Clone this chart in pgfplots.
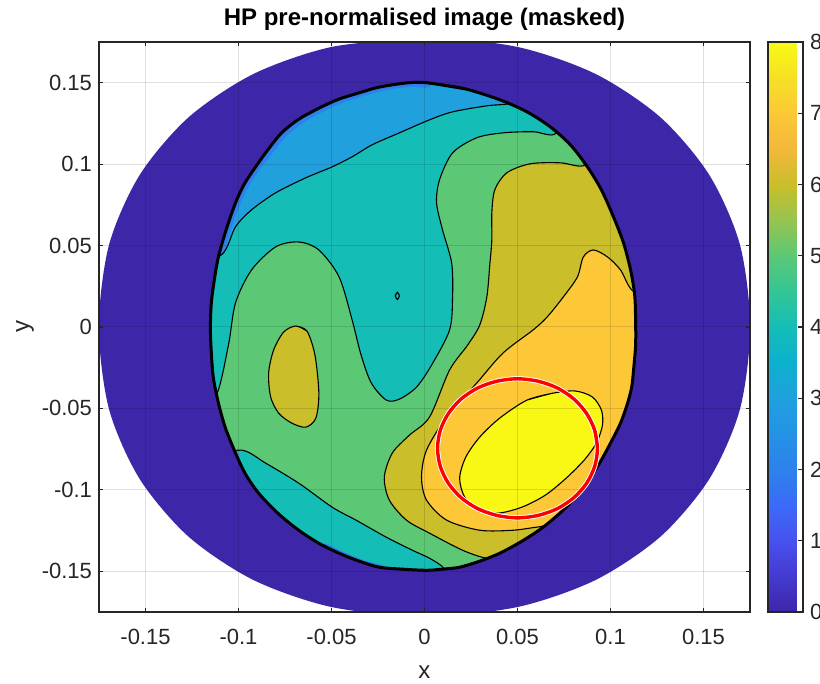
\documentclass[border=0pt]{standalone}
\usepackage{fontspec}
\setmainfont{Liberation Sans}
\usepackage{pgfplots}
\pgfplotsset{compat=1.18}

\definecolor{pc0}{RGB}{62,38,168}
\definecolor{pc2}{RGB}{44,130,236}
\definecolor{pc3}{RGB}{33,160,222}
\definecolor{pc4}{RGB}{20,190,182}
\definecolor{pc5}{RGB}{92,200,118}
\definecolor{pc6}{RGB}{202,190,42}
\definecolor{pc7}{RGB}{252,200,55}
\definecolor{pc8}{RGB}{248,248,20}
\definecolor{axgray}{RGB}{38,38,38}

\begin{document}
\begin{tikzpicture}
\begin{axis}[
  at={(49.5pt,36pt)}, anchor=south west,
  scale only axis, width=325.5pt, height=285pt,
  xmin=-0.175, xmax=0.175, ymin=-0.175, ymax=0.175,
  xtick={-0.15,-0.1,-0.05,0,0.05,0.1,0.15},
  ytick={-0.15,-0.1,-0.05,0,0.05,0.1,0.15},
  xticklabels={-0.15,-0.1,-0.05,0,0.05,0.1,0.15},
  yticklabels={-0.15,-0.1,-0.05,0,0.05,0.1,0.15},
  tick label style={font=\fontsize{11}{13}\selectfont, text=axgray},
  xticklabel style={anchor=center, yshift=-12.5pt},
  tick pos=both, tick align=inside, major tick length=2.2pt,
  grid=major, grid style={draw=black, draw opacity=0.12, line width=0.5pt},
  axis on top,
  axis line style={draw=axgray, line width=0.6pt},
  every tick/.style={draw=axgray, line width=0.6pt},
  title={HP pre-normalised image (masked)},
  title style={font=\bfseries\fontsize{12}{14}\selectfont, at={(0.5,1)}, anchor=base, yshift=2pt},
  xlabel={x}, ylabel={y},
  label style={font=\fontsize{12}{14}\selectfont, text=axgray},
  xlabel style={at={(axis description cs:0.5,-0.1053)}, anchor=center},
  ylabel style={at={(axis description cs:-0.1137,0.5)}, anchor=center},
  colormap={parula}{rgb255=(62,38,168) rgb255=(68,58,208) rgb255=(71,82,238) rgb255=(60,106,248)
    rgb255=(44,130,236) rgb255=(36,146,230) rgb255=(33,160,222) rgb255=(12,176,206)
    rgb255=(20,190,182) rgb255=(52,197,150) rgb255=(92,200,118) rgb255=(150,196,80)
    rgb255=(202,190,42) rgb255=(242,184,58) rgb255=(252,200,55) rgb255=(245,224,38)
    rgb255=(249,250,20)},
  colorbar, point meta min=0, point meta max=8,
  colorbar style={
    at={(parent axis.north east)}, anchor=north west, xshift=0.5pt,
    width=17.5pt,
    ytick={0,1,2,3,4,5,6,7,8}, yticklabels={0,1,2,3,4,5,6,7,8},
    ytick pos=right, yticklabel pos=right, tick align=inside,
    major tick length=2.5pt,
    axis line style={draw=axgray, line width=0.6pt},
    every tick/.style={draw=axgray, line width=0.6pt},
    tick label style={font=\fontsize{11}{13}\selectfont, text=axgray},
  },
]

% level 3 background (inside the ring)
\addplot[fill=pc3, draw=none, smooth] coordinates {
 (0.1432,0) (0.1240,0.0815) (0.0716,0.1411) (0,0.1629) (-0.0716,0.1411)
 (-0.1240,0.0815) (-0.1432,0) (-0.1240,-0.0815) (-0.0716,-0.1411) (0,-0.1629)
 (0.0716,-0.1411) (0.1240,-0.0815) (0.1432,0)};

% level 2 sliver, top left
\addplot[fill=pc2, draw=none, smooth] coordinates {
 (-0.1081,0.0424) (-0.1043,0.0590) (-0.0995,0.0744) (-0.0946,0.0860) (-0.0886,0.0965)
 (-0.0816,0.1069) (-0.0746,0.1168) (-0.0659,0.1248) (-0.0568,0.1309) (-0.0454,0.1371)
 (-0.0341,0.1414) (-0.0249,0.1444) (-0.0162,0.1463) (-0.0070,0.1475) (0.0027,0.1475)
 (0.0060,0.1580) (0,0.1629) (-0.0716,0.1411) (-0.1240,0.0815) (-0.1280,0.0400)
 (-0.1081,0.0424)};

% level 4
\addplot[fill=pc4, draw=black, line width=0.55pt, smooth] coordinates {
 (-0.1280,0.0400) (-0.1092,0.0443) (-0.1016,0.0615) (-0.0930,0.0719) (-0.0800,0.0824)
 (-0.0638,0.0916) (-0.0497,0.0983) (-0.0389,0.1045) (-0.0281,0.1119) (-0.0135,0.1192)
 (0.0027,0.1272) (0.0151,0.1321) (0.0335,0.1358) (0.0476,0.1377) (0.0560,0.1460)
 (0.0716,0.1411) (0.1240,0.0815) (0.1432,0) (0.1240,-0.0815) (0.0716,-0.1411)
 (0,-0.1629) (-0.0716,-0.1411) (-0.1240,-0.0815) (-0.1432,0) (-0.1280,0.0400)};

% level 5
\addplot[fill=pc5, draw=black, line width=0.55pt, smooth] coordinates {
 (-0.1216,-0.0449) (-0.1119,-0.0418) (-0.1054,-0.0111) (-0.1016,0.0148) (-0.0930,0.0350)
 (-0.0800,0.0492) (-0.0676,0.0522) (-0.0568,0.0473) (-0.0459,0.0307) (-0.0389,0.0043)
 (-0.0341,-0.0172) (-0.0286,-0.0344) (-0.0205,-0.0449) (-0.0135,-0.0443) (-0.0043,-0.0369)
 (0.0038,-0.0234) (0.0135,-0.0018) (0.0151,0.0184) (0.0146,0.0393) (0.0097,0.0596)
 (0.0065,0.0762) (0.0081,0.0904) (0.0151,0.1069) (0.0281,0.1162) (0.0422,0.1192)
 (0.0584,0.1199) (0.0703,0.1186) (0.0760,0.1350) (0.1240,0.0815) (0.1432,0)
 (0.1240,-0.0815) (0.0716,-0.1411) (0.0120,-0.1600) (0.0108,-0.1487) (0.0027,-0.1420)
 (-0.0065,-0.1371) (-0.0205,-0.1291) (-0.0368,-0.1186) (-0.0497,-0.1106) (-0.0676,-0.0959)
 (-0.0854,-0.0836) (-0.0984,-0.0756) (-0.1189,-0.0787) (-0.1216,-0.0449)};

% level 3 sliver, bottom
\addplot[fill=pc2, draw=none, smooth] coordinates {
 (-0.0560,-0.1330) (-0.0524,-0.1334) (-0.0432,-0.1383) (-0.0341,-0.1426) (-0.0270,-0.1450)
 (-0.0200,-0.1480) (-0.0250,-0.1580) (-0.0550,-0.1500) (-0.0560,-0.1330)};

% level 6, island
\addplot[fill=pc6, draw=black, line width=0.55pt, smooth] coordinates {
 (-0.0692,0.0006) (-0.0632,-0.0025) (-0.0589,-0.0172) (-0.0568,-0.0406) (-0.0584,-0.0559)
 (-0.0638,-0.0615) (-0.0714,-0.0590) (-0.0784,-0.0529) (-0.0827,-0.0430) (-0.0838,-0.0283)
 (-0.0811,-0.0141) (-0.0757,-0.0031) (-0.0692,0.0006) (-0.0632,-0.0025)};

% level 6, right
\addplot[fill=pc6, draw=black, line width=0.55pt, smooth] coordinates {
 (0.0960,0.1080) (0.0854,0.0990) (0.0730,0.1008) (0.0568,0.1002) (0.0443,0.0947)
 (0.0378,0.0842) (0.0362,0.0701) (0.0362,0.0535) (0.0351,0.0381) (0.0335,0.0184)
 (0.0297,0.0012) (0.0232,-0.0111) (0.0135,-0.0264) (0.0027,-0.0553) (-0.0081,-0.0664)
 (-0.0173,-0.0774) (-0.0216,-0.0922) (-0.0189,-0.1063) (-0.0097,-0.1186) (0.0027,-0.1266)
 (0.0205,-0.1371) (0.0335,-0.1420) (0.0422,-0.1408) (0.0459,-0.1524) (0.0716,-0.1411)
 (0.1240,-0.0815) (0.1432,0) (0.1240,0.0815) (0.0960,0.1080)};

% level 7
\addplot[fill=pc7, draw=black, line width=0.55pt, smooth] coordinates {
 (0.1300,0.0250) (0.1130,0.0215) (0.1054,0.0350) (0.0984,0.0430) (0.0908,0.0473)
 (0.0854,0.0430) (0.0822,0.0307) (0.0746,0.0184) (0.0659,0.0061) (0.0584,-0.0018)
 (0.0422,-0.0160) (0.0281,-0.0344) (0.0119,-0.0553) (0.0011,-0.0756) (-0.0016,-0.0922)
 (0.0011,-0.1063) (0.0119,-0.1186) (0.0297,-0.1248) (0.0476,-0.1248) (0.0605,-0.1229)
 (0.0665,-0.1230) (0.0720,-0.1350) (0.1240,-0.0815) (0.1432,0) (0.1300,0.0250)};

% level 8
\addplot[fill=pc8, draw=black, line width=0.55pt, smooth] coordinates {
 (0.0551,-0.0449) (0.0692,-0.0406) (0.0811,-0.0393) (0.0903,-0.0430) (0.0951,-0.0510)
 (0.0957,-0.0602) (0.0924,-0.0713) (0.0859,-0.0817) (0.0762,-0.0928) (0.0649,-0.1033)
 (0.0524,-0.1106) (0.0395,-0.1143) (0.0286,-0.1119) (0.0216,-0.1045) (0.0189,-0.0928)
 (0.0222,-0.0799) (0.0297,-0.0676) (0.0405,-0.0559) (0.0551,-0.0449) (0.0692,-0.0406)};

% tiny closed contour
\addplot[draw=black, line width=0.55pt, smooth] coordinates {
 (-0.0157,0.0191) (-0.0146,0.0213) (-0.0135,0.0191) (-0.0146,0.0169) (-0.0157,0.0191) (-0.0146,0.0213)};

% masked ring (value 0)
\addplot[fill=pc0, draw=none, smooth, unbounded coords=jump] coordinates {
 (0,0.1776) (-0.0498,0.1720) (-0.0919,0.1554) (-0.1269,0.1287) (-0.1532,0.0932)
 (-0.1696,0.0505) (-0.1751,0) (-0.1696,-0.0505) (-0.1532,-0.0932) (-0.1269,-0.1287)
 (-0.0919,-0.1554) (-0.0498,-0.1720) (0,-0.1776) (0.0498,-0.1720) (0.0919,-0.1554)
 (0.1269,-0.1287) (0.1532,-0.0932) (0.1696,-0.0505) (0.1751,0) (0.1696,0.0505)
 (0.1532,0.0932) (0.1269,0.1287) (0.0919,0.1554) (0.0498,0.1720) (0,0.1776)
 (-0.0498,0.1720)
 (nan,nan)
 (0.0011,0.1500) (0.0216,0.1463) (0.0405,0.1395) (0.0551,0.1321) (0.0676,0.1229)
 (0.0784,0.1119) (0.0876,0.0983) (0.0951,0.0842) (0.1016,0.0676) (0.1070,0.0516)
 (0.1108,0.0350) (0.1130,0.0197) (0.1135,0.0043) (0.1135,-0.0111) (0.1124,-0.0264)
 (0.1114,-0.0369) (0.1092,-0.0467) (0.1054,-0.0590) (0.1000,-0.0713) (0.0935,-0.0848)
 (0.0854,-0.0983) (0.0757,-0.1112) (0.0638,-0.1229) (0.0524,-0.1315) (0.0405,-0.1389)
 (0.0297,-0.1438) (0.0189,-0.1475) (0.0097,-0.1487) (0.0011,-0.1494) (-0.0119,-0.1487)
 (-0.0243,-0.1475) (-0.0351,-0.1438) (-0.0459,-0.1389) (-0.0568,-0.1328) (-0.0676,-0.1248)
 (-0.0789,-0.1143) (-0.0892,-0.1020) (-0.0962,-0.0904) (-0.1016,-0.0774) (-0.1070,-0.0621)
 (-0.1108,-0.0467) (-0.1135,-0.0313) (-0.1146,-0.0160) (-0.1151,-0.0006) (-0.1146,0.0148)
 (-0.1130,0.0289) (-0.1108,0.0430) (-0.1065,0.0602) (-0.1016,0.0762) (-0.0968,0.0879)
 (-0.0908,0.0983) (-0.0838,0.1094) (-0.0768,0.1192) (-0.0681,0.1272) (-0.0584,0.1334)
 (-0.0470,0.1395) (-0.0351,0.1438) (-0.0259,0.1469) (-0.0173,0.1487) (-0.0081,0.1500)
 (0.0011,0.1500) (0.0216,0.1463)};

% mask edge
\addplot[draw=black, line width=1.5pt, smooth] coordinates {
 (0.0011,0.1500) (0.0216,0.1463) (0.0405,0.1395) (0.0551,0.1321) (0.0676,0.1229)
 (0.0784,0.1119) (0.0876,0.0983) (0.0951,0.0842) (0.1016,0.0676) (0.1070,0.0516)
 (0.1108,0.0350) (0.1130,0.0197) (0.1135,0.0043) (0.1135,-0.0111) (0.1124,-0.0264)
 (0.1114,-0.0369) (0.1092,-0.0467) (0.1054,-0.0590) (0.1000,-0.0713) (0.0935,-0.0848)
 (0.0854,-0.0983) (0.0757,-0.1112) (0.0638,-0.1229) (0.0524,-0.1315) (0.0405,-0.1389)
 (0.0297,-0.1438) (0.0189,-0.1475) (0.0097,-0.1487) (0.0011,-0.1494) (-0.0119,-0.1487)
 (-0.0243,-0.1475) (-0.0351,-0.1438) (-0.0459,-0.1389) (-0.0568,-0.1328) (-0.0676,-0.1248)
 (-0.0789,-0.1143) (-0.0892,-0.1020) (-0.0962,-0.0904) (-0.1016,-0.0774) (-0.1070,-0.0621)
 (-0.1108,-0.0467) (-0.1135,-0.0313) (-0.1146,-0.0160) (-0.1151,-0.0006) (-0.1146,0.0148)
 (-0.1130,0.0289) (-0.1108,0.0430) (-0.1065,0.0602) (-0.1016,0.0762) (-0.0968,0.0879)
 (-0.0908,0.0983) (-0.0838,0.1094) (-0.0768,0.1192) (-0.0681,0.1272) (-0.0584,0.1334)
 (-0.0470,0.1395) (-0.0351,0.1438) (-0.0259,0.1469) (-0.0173,0.1487) (-0.0081,0.1500)
 (0.0011,0.1500) (0.0216,0.1463)};

% red circle
\addplot[draw=white, line width=2.6pt, smooth] coordinates {
 (0.0930,-0.0745) (0.0915,-0.0634) (0.0872,-0.0532) (0.0804,-0.0443) (0.0715,-0.0375)
 (0.0611,-0.0333) (0.0500,-0.0318) (0.0389,-0.0333) (0.0285,-0.0375) (0.0196,-0.0443)
 (0.0128,-0.0532) (0.0085,-0.0634) (0.0070,-0.0745) (0.0085,-0.0856) (0.0128,-0.0959)
 (0.0196,-0.1047) (0.0285,-0.1115) (0.0389,-0.1157) (0.0500,-0.1172) (0.0611,-0.1157)
 (0.0715,-0.1115) (0.0804,-0.1047) (0.0872,-0.0959) (0.0915,-0.0856) (0.0930,-0.0745)
 (0.0915,-0.0634)};
\addplot[draw=red, line width=1.7pt, smooth] coordinates {
 (0.0930,-0.0745) (0.0915,-0.0634) (0.0872,-0.0532) (0.0804,-0.0443) (0.0715,-0.0375)
 (0.0611,-0.0333) (0.0500,-0.0318) (0.0389,-0.0333) (0.0285,-0.0375) (0.0196,-0.0443)
 (0.0128,-0.0532) (0.0085,-0.0634) (0.0070,-0.0745) (0.0085,-0.0856) (0.0128,-0.0959)
 (0.0196,-0.1047) (0.0285,-0.1115) (0.0389,-0.1157) (0.0500,-0.1172) (0.0611,-0.1157)
 (0.0715,-0.1115) (0.0804,-0.1047) (0.0872,-0.0959) (0.0915,-0.0856) (0.0930,-0.0745)
 (0.0915,-0.0634)};

\end{axis}
\pgfresetboundingbox
\path[use as bounding box] (0,0) rectangle (410pt,342pt);
\end{tikzpicture}
\end{document}
